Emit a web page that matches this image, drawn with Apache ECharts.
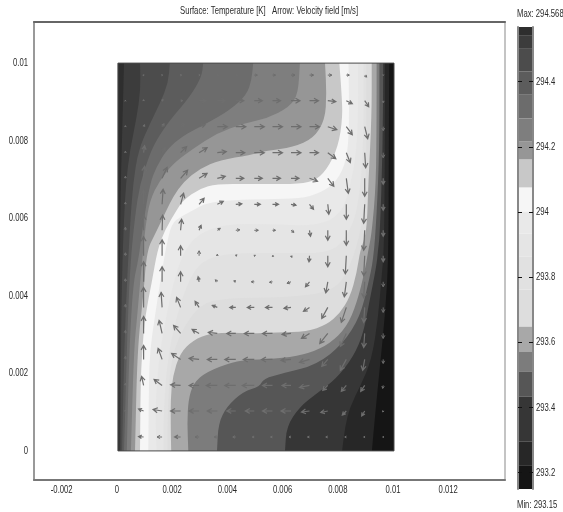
<!DOCTYPE html>
<html><head><meta charset="utf-8">
<style>html,body{margin:0;padding:0;background:#fff}#c{width:563px;height:512px}</style>
<script src="https://cdn.jsdelivr.net/npm/echarts@6/dist/echarts.min.js"></script>
</head><body><div id="c"></div>
<script>
// Contour lines of the temperature field, [x, y] in mm, top edge to bottom edge.
var K01=[[.22,10],[.17,8.6],[.1,6.9],[.07,5],[.05,0]];
var K02=[[.8,10],[.82,9.3],[.68,8.6],[.43,7.75],[.29,6.9],[.22,6],[.17,5],[.12,3.5],[.09,0]];
var K03=[[1.88,10],[1.82,9.48],[1.52,8.96],[1.16,8.44],[.74,7.76],[.55,6.9],[.46,6.05],[.37,4.92],[.27,3.46],[.2,1.74],[.15,0]];
var K04=[[3.09,10],[3.03,9.65],[2.61,9.13],[1.88,8.53],[1.4,8.02],[1.16,7.67],[.8,6.9],[.62,6.05],[.46,4.92],[.36,3.46],[.29,1.74],[.22,0]];
var K05=[[4.9,10],[4.84,9.56],[4.66,9.18],[4.06,8.79],[3.21,8.44],[2.37,8.14],[1.76,7.76],[1.4,7.33],[1.16,6.9],[.92,5.87],[.74,4.92],[.55,4.32],[.41,2.6],[.32,0]];
var K06=[[6.59,10],[6.53,9.22],[6.23,8.87],[5.39,8.57],[4.54,8.44],[3.57,8.19],[2.73,7.8],[2,7.41],[1.52,6.98],[1.16,6.47],[1,5.8],[.88,4.92],[.7,3.5],[.58,2.6],[.47,0]];
var K07=[[7.5,10],[7.56,9.22],[7.5,8.53],[7.08,8.06],[6.35,7.83],[5.39,7.74],[4.78,7.63],[3.7,7.5],[2.97,7.28],[2.37,6.94],[2,6.55],[1.76,6.21],[1.35,5.6],[1.05,5.18],[.92,4],[.7,2.6],[.62,0]];
var K08=[[8.02,10],[8.1,9.22],[8.14,8.62],[7.98,7.84],[7.56,7.24],[7.08,6.94],[6.35,6.88],[4.78,6.88],[3.57,6.88],[2.97,6.77],[2.37,6.47],[2.13,6.21],[1.7,5.7],[1.43,5.18],[1.22,4.32],[.98,3.46],[.88,2.6],[.82,1.74],[.8,0]];
var K09=[[8.35,10],[8.38,8.37],[8.29,7.5],[7.92,6.94],[7.32,6.64],[6.59,6.51],[5.39,6.49],[4.18,6.47],[3.21,6.4],[2.73,6.21],[2.3,6.05],[1.94,5.87],[1.72,5.18],[1.52,4.32],[1.34,3.46],[1.16,2.6],[1.12,1.74],[1.1,0]];
var K10=[[8.7,10],[8.7,8.5],[8.6,7.5],[8.4,6.8],[8.1,6.1],[7.2,5.8],[5.4,5.85],[3.9,5.85],[2.9,5.6],[2.35,5.1],[2,4.3],[1.7,3.3],[1.45,2.2],[1.35,1],[1.4,0]];
var K11=[[8.9,10],[8.9,8],[8.75,6.5],[8.45,5.7],[7.8,5.1],[6,5.1],[4,5.1],[3,4.9],[2.5,4.3],[2.1,3.4],[1.8,2.4],[1.65,1],[1.65,0]];
var K12=[[9,10],[9,7],[8.85,5.8],[8.4,4.7],[7.8,4.1],[6,3.95],[4,3.95],[3,3.8],[2.3,3.1],[1.9,2.3],[1.8,1],[1.8,0]];
var K13=[[9.19,10],[9.19,8.62],[9.07,6.9],[9.01,5.61],[8.77,5.18],[8.65,4.58],[8.41,3.98],[8.04,3.55],[7.56,3.25],[6.84,3.08],[5.75,3.05],[4.78,3.03],[4.18,3.05],[3.33,3.03],[2.73,2.86],[2.25,2.52],[1.98,1.92],[1.91,1.32],[1.91,.71],[1.93,0]];
var K14=[[9.37,10],[9.37,8.62],[9.35,6.9],[9.19,5.61],[9.07,5.18],[8.95,4.66],[8.65,3.81],[8.29,3.2],[7.68,2.77],[6.96,2.52],[5.99,2.39],[4.78,2.35],[4.18,2.3],[3.21,2.04],[2.73,1.74],[2.55,1.31],[2.51,.71],[2.55,0]];
var K15=[[9.47,10],[9.47,7.76],[9.37,6.05],[9.25,4.92],[9.07,4.32],[8.77,3.46],[8.16,2.77],[7.2,2.22],[5.99,2],[5.27,1.87],[5.14,1.66],[4.54,1.53],[3.94,1.14],[3.64,.71],[3.59,0]];
var K16=[[9.61,10],[9.59,7.76],[9.49,5.61],[9.42,5.18],[9.36,4.75],[9.12,3.89],[8.89,3.03],[8.53,2.43],[7.92,1.87],[7.2,1.48],[6.59,1.14],[6.11,.63],[6.05,0]];
var K17=[[9.67,10],[9.67,7.76],[9.64,5.18],[9.55,4.49],[9.43,3.46],[9.19,2.35],[8.77,1.66],[8.41,1.14],[8.23,.63],[8.12,0]];
var K18=[[9.83,10],[9.81,7.76],[9.8,4.92],[9.67,3.46],[9.49,2.17],[9.31,.88],[9.2,0]];
var contours=[K01,K02,K03,K04,K05,K06,K07,K08,K09,K10,K11,K12,K13,K14,K15,K16,K17,K18];
// Colour of each band, hottest first (one more than contours), and the temperature at each band's lower edge.
var bandColors=['#2e2e2e','#3c3c3c','#4c4c4c','#5c5c5c','#6c6c6c','#7e7e7e','#969696','#c8c8c8','#f6f6f6','#e9e9e9','#e5e5e5','#e1e1e1','#dddddd','#a8a8a8','#7c7c7c','#565656','#363636','#272727','#151515'];
var bandEdges=[294.541,294.501,294.431,294.360,294.287,294.216,294.161,294.075,294.001,293.934,293.863,293.762,293.648,293.572,293.511,293.433,293.295,293.221,293.15];
var tempMax=294.568, tempMin=293.15;
var colorbarTicks=[293.2,293.4,293.6,293.8,294,294.2,294.4];
var xTicks=[-0.002,0,0.002,0.004,0.006,0.008,0.01,0.012];
var yTicks=[0,0.002,0.004,0.006,0.008,0.01];
// Velocity field: sample positions in mm and components per row (bottom row first).
var arrowX=[.27,.93,1.6,2.27,2.94,3.6,4.27,4.94,5.6,6.27,6.94,7.6,8.27,8.94,9.61];
var arrowY=[.36,1.03,1.69,2.36,3.03,3.7,4.36,5.03,5.69,6.36,7.03,7.69,8.36,9.03,9.69];
var velU=[
[-.5,-5,-5,-6,-4,-3,-3,-2,-2,-2,-2,-2,-1.5,-1,-.5],
[0,-5,-9,-10,-10,-10,-9,-9,-10,-10,-8,-7,-4,-3,-.5],
[0,-2,-8,-10,-10,-11,-11,-12,-10,-9,-10,-5,-5,-4,-.5],
[0,0,-4,-9,-10,-10,-11,-11,-11,-10,-10,-6,-6,-2,0],
[0,0,-3,-7,-7,-9,-9,-10,-10,-9,-8,-8,-6,-1,0],
[0,0,-1,-4,-4,-5,-6,-7,-7,-7,-6,-6,-5,-1,0],
[0,0,0,0,-1,-2,-2,-3,-3,-4,-4,-2,-2,-1,0],
[0,0,0,0,0,0,1,1,1,1,-.5,0,-1,-1,0],
[0,0,.5,1,2,3,4,4,3,3,1,0,0,-1,0],
[0,0,1,3,5,6,6,6,6,5,4,1,0,-1,0],
[0,1,5,7,8,8,8,8,8,8,8,6,2,0,0],
[0,1,3,6,8,9,9,10,10,10,9,8,4,1,0],
[0,1,2,4,6,10,10,10,10,10,10,9,6,3,0],
[0,0,1,2,7,8,8,8,8,9,9,8,6,4,0],
[0,.3,.5,1,1,1.5,2,3,3,4,4,4,3,2,0]];
var velV=[
[0,.5,0,0,0,0,0,0,0,0,0,0,0,0,0],
[1,2,1.5,0,0,0,0,0,0,0,-1,-1.5,-4,-5,-1],
[2,9,6,.5,0,0,0,0,0,0,-2,-5,-6,-6,-3],
[3,14,11,6,1,0,0,0,0,-1,-3,-7,-11,-11,-4],
[3,17,13,8,4,1,0,0,0,-1,-5,-10,-13,-14,-5],
[3,20,15,10,6,2,0,0,0,-1,-4,-11,-15,-15,-5],
[3,20,15,10,5,2,1,0,-.5,-1.5,-5,-11,-15,-16,-5],
[3,19,16,10,5,1.5,1,.5,-.5,-1.5,-6,-11,-18,-20,-6],
[3,15,15,11,5,2,.5,0,0,-2,-6,-10,-15,-20,-6],
[2,14,15,11,6,3,.5,0,0,-1,-5,-10,-15,-19,-6],
[2,12,11,8,5,2,0,0,0,0,-3,-8,-15,-18,-6],
[1.5,7,5,6,5,1,0,0,0,0,0,-6,-10,-15,-5],
[1,2,3,3,2,0,0,0,0,0,0,-3,-8,-12,-4],
[.5,1,1,0,0,0,0,0,0,0,0,-1,-3,-6,-2],
[0,.3,0,0,0,0,0,0,0,0,0,0,0,-2,-.5]];

var mm=0.001, FONT="'Liberation Sans',sans-serif", TXT='#2a2a2a', SQUEEZE=0.7, FS=11;
function P(api,p){return api.coord([p[0]*mm,p[1]*mm]);}
function f(n){return n.toFixed(1);}
function squeezedText(str,x,y,align){
  return {type:'text',x:x,y:y,scaleX:SQUEEZE,style:{text:str,fontFamily:FONT,fontSize:FS,fill:TXT,align:align,verticalAlign:'middle'}};
}
function renderBand(params,api){
  var i=params.dataIndex;
  var tr=P(api,[10,10]),br=P(api,[10,0]),tl=P(api,[0,10]),bl=P(api,[0,0]),d;
  if(i===0){d='M'+f(tl[0])+' '+f(tl[1])+'L'+f(tr[0])+' '+f(tr[1])+'L'+f(br[0])+' '+f(br[1])+'L'+f(bl[0])+' '+f(bl[1])+'Z';}
  else{
    var pts=contours[i-1].map(function(p){return P(api,p);});
    d='M'+f(pts[0][0])+' '+f(pts[0][1]);
    for(var k=1;k<pts.length-1;k++){
      var mx=(pts[k][0]+pts[k+1][0])/2,my=(pts[k][1]+pts[k+1][1])/2;
      if(k===1){d+='L'+f((pts[0][0]+pts[1][0])/2)+' '+f((pts[0][1]+pts[1][1])/2);}
      d+='Q'+f(pts[k][0])+' '+f(pts[k][1])+' '+f(mx)+' '+f(my);
    }
    var e=pts[pts.length-1];
    d+='L'+f(e[0])+' '+f(e[1])+'L'+f(br[0])+' '+f(br[1])+'L'+f(tr[0])+' '+f(tr[1])+'Z';
  }
  return {type:'path',shape:{pathData:d},style:{fill:bandColors[i],stroke:null}};
}
function renderOutline(params,api){
  var a=P(api,[0,10]),b=P(api,[10,0]);
  return {type:'rect',shape:{x:a[0],y:a[1],width:b[0]-a[0],height:b[1]-a[1]},style:{fill:null,stroke:'#4a4a4a',lineWidth:1}};
}
function renderArrow(params,api){
  var x=api.value(0),y=api.value(1),u=api.value(2),v=api.value(3);
  var a=api.coord([x,y]),L=Math.sqrt(u*u+v*v);
  var bx=a[0]+u,by=a[1]-v,ux=u/L,uy=-v/L;
  var h=Math.min(4.5,1+L*.4),w=h*.55;
  var hx=bx-ux*h,hy=by-uy*h;
  var d='M'+f(a[0])+' '+f(a[1])+'L'+f(bx)+' '+f(by)+
        'M'+f(hx-uy*w)+' '+f(hy+ux*w)+'L'+f(bx)+' '+f(by)+'L'+f(hx+uy*w)+' '+f(hy-ux*w);
  return {type:'path',shape:{pathData:d},style:{fill:null,stroke:'#6e6e6e',lineWidth:L>5?1.2:1}};
}
function renderColorbar(params,api){
  var i=params.dataIndex,top=i===0?tempMax:bandEdges[i-1],bot=bandEdges[i];
  var a=api.coord([0,top]),b=api.coord([1,bot]);
  return {type:'rect',shape:{x:a[0],y:a[1],width:b[0]-a[0],height:b[1]-a[1]},style:{fill:bandColors[i],stroke:null}};
}
function renderXLabel(params,api){
  var v=xTicks[params.dataIndex],c=api.coord([v,0]);
  return squeezedText(String(v),c[0]-1,490,'center');
}
function renderYLabel(params,api){
  var v=yTicks[params.dataIndex],c=api.coord([0,v]);
  return squeezedText(String(v),28,c[1],'right');
}
function renderBarLabel(params,api){
  var v=colorbarTicks[params.dataIndex],c=api.coord([1,v]);
  return squeezedText(String(v),c[0]+3,c[1],'left');
}
var arrows=[];
arrowY.forEach(function(y,r){arrowX.forEach(function(x,c){
  if(velU[r][c]!==0||velV[r][c]!==0)arrows.push([x*mm,y*mm,velU[r][c],velV[r][c]]);
});});
function idx(list){return list.map(function(c,i){return [i];});}
function edge(color){return {show:true,onZero:false,lineStyle:{color:color,width:2}};}
function none(){return {show:false};}
var chart=echarts.init(document.getElementById('c'),null,{renderer:'canvas'});
chart.setOption({
  animation:false,backgroundColor:'#fff',
  grid:[{left:34,top:22,width:471,height:458},{left:518,top:27,width:15,height:462}],
  xAxis:[
    {type:'value',gridIndex:0,min:-0.00304,max:0.01402,position:'bottom',axisLine:edge('#777'),axisTick:none(),splitLine:none(),axisLabel:none()},
    {type:'value',gridIndex:0,min:-0.00304,max:0.01402,position:'top',axisLine:edge('#666'),axisTick:none(),axisLabel:none(),splitLine:none()},
    {type:'value',gridIndex:1,min:0,max:1,show:false}
  ],
  yAxis:[
    {type:'value',gridIndex:0,min:-0.00075,max:0.01106,position:'left',axisLine:edge('#999'),axisTick:none(),splitLine:none(),axisLabel:none()},
    {type:'value',gridIndex:0,min:-0.00075,max:0.01106,position:'right',axisLine:edge('#c4c4c4'),axisTick:none(),axisLabel:none(),splitLine:none()},
    {type:'value',gridIndex:1,min:tempMin,max:tempMax,position:'right',splitLine:none(),z:5,axisLine:edge('#888'),
     axisTick:{show:true,inside:true,length:4,customValues:colorbarTicks,lineStyle:{color:'#111'}},axisLabel:none()},
    {type:'value',gridIndex:1,min:tempMin,max:tempMax,position:'left',splitLine:none(),z:5,axisLine:edge('#888'),
     axisTick:{show:true,inside:true,length:4,customValues:colorbarTicks,lineStyle:{color:'#111'}},axisLabel:none()}
  ],
  graphic:[
    {type:'text',x:180,y:11,scaleX:SQUEEZE,style:{text:'Surface: Temperature [K]   Arrow: Velocity field [m/s]',fontFamily:FONT,fontSize:FS,fill:TXT,verticalAlign:'middle'}},
    {type:'text',x:517,y:14,scaleX:SQUEEZE,style:{text:'Max: 294.568',fontFamily:FONT,fontSize:FS,fill:TXT,verticalAlign:'middle'}},
    {type:'text',x:517,y:505,scaleX:SQUEEZE,style:{text:'Min: 293.15',fontFamily:FONT,fontSize:FS,fill:TXT,verticalAlign:'middle'}}
  ],
  series:[
    {type:'custom',xAxisIndex:0,yAxisIndex:0,clip:false,renderItem:renderBand,data:idx(bandColors),encode:{x:-1,y:-1},silent:true},
    {type:'custom',xAxisIndex:0,yAxisIndex:0,clip:false,renderItem:renderOutline,data:[[0]],encode:{x:-1,y:-1},silent:true,z:3},
    {type:'custom',xAxisIndex:0,yAxisIndex:0,clip:false,renderItem:renderArrow,data:arrows,encode:{x:0,y:1},silent:true,z:4},
    {type:'custom',xAxisIndex:2,yAxisIndex:2,clip:false,renderItem:renderColorbar,data:idx(bandColors),encode:{x:-1,y:-1},silent:true},
    {type:'custom',xAxisIndex:0,yAxisIndex:0,clip:false,renderItem:renderXLabel,data:idx(xTicks),encode:{x:-1,y:-1},silent:true,z:6},
    {type:'custom',xAxisIndex:0,yAxisIndex:0,clip:false,renderItem:renderYLabel,data:idx(yTicks),encode:{x:-1,y:-1},silent:true,z:6},
    {type:'custom',xAxisIndex:2,yAxisIndex:2,clip:false,renderItem:renderBarLabel,data:idx(colorbarTicks),encode:{x:-1,y:-1},silent:true,z:6}
  ]
});
</script></body></html>
